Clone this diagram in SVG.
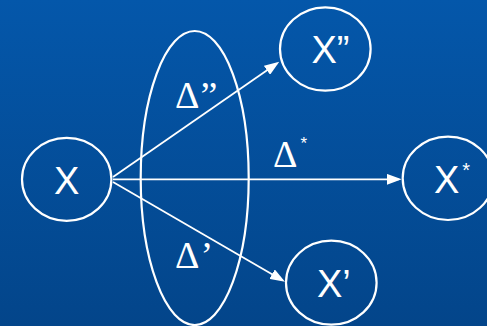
<svg xmlns="http://www.w3.org/2000/svg" width="487" height="326" viewBox="0 0 487 326">
<defs>
<linearGradient id="bg" x1="0" y1="0" x2="0" y2="1">
<stop offset="0" stop-color="#0457AA"/>
<stop offset="1" stop-color="#03458A"/>
</linearGradient>
<marker id="ah" viewBox="0 0 15 11" refX="12" refY="5.5" markerWidth="15" markerHeight="11" markerUnits="userSpaceOnUse" orient="auto">
<path d="M0,0 L15,5.5 L0,11 Z" fill="#fff"/>
</marker>
<style>
.n{fill:none;stroke:#fff;stroke-width:2.2}
.c{fill:none;stroke:#fff;stroke-width:1.8;marker-end:url(#ah)}
.t{fill:#fff;font-family:"Liberation Sans",Arial,sans-serif;font-size:38px}
.d{fill:#fff;font-family:"Liberation Serif","Times New Roman",serif;font-size:38px}
.s{font-family:"Liberation Sans",Arial,sans-serif;font-size:20px}
</style>
</defs>
<rect width="487" height="326" fill="url(#bg)"/>
<g id="group-ellipse">
<ellipse class="n" cx="194.7" cy="178" rx="54" ry="147"/>
</g>
<g id="connectors">
<line class="c" x1="113" y1="177" x2="276.8" y2="63.4"/>
<line class="c" x1="113" y1="179.3" x2="398.7" y2="179.3"/>
<line class="c" x1="113" y1="182" x2="282.4" y2="280.2"/>
</g>
<g id="label-d2">
<text class="d" x="175" y="108.3">Δ<tspan dx="1">”</tspan></text>
</g>
<g id="label-dstar">
<text class="d" x="273" y="166.7">Δ<tspan class="s" style="font-size:17px" dx="3" dy="-18">*</tspan></text>
</g>
<g id="label-d1">
<text class="d" x="175" y="268.3">Δ<tspan dx="1">’</tspan></text>
</g>
<g id="node-x">
<ellipse class="n" cx="66.7" cy="179.3" rx="44.7" ry="41.5"/>
<text class="t" x="66.7" y="194.3" text-anchor="middle">X</text>
</g>
<g id="node-x2">
<ellipse class="n" cx="325.3" cy="49" rx="45.3" ry="41.7"/>
<text class="t" x="311.5" y="63.3">X”</text>
</g>
<g id="node-xstar">
<ellipse class="n" cx="448" cy="178.3" rx="45.3" ry="41.7"/>
<text class="t" x="434" y="192.7">X<tspan class="s" dx="3" dy="-16">*</tspan></text>
</g>
<g id="node-x1">
<ellipse class="n" cx="331.3" cy="282.7" rx="45.3" ry="42"/>
<text class="t" x="317" y="297.3">X’</text>
</g>
</svg>
